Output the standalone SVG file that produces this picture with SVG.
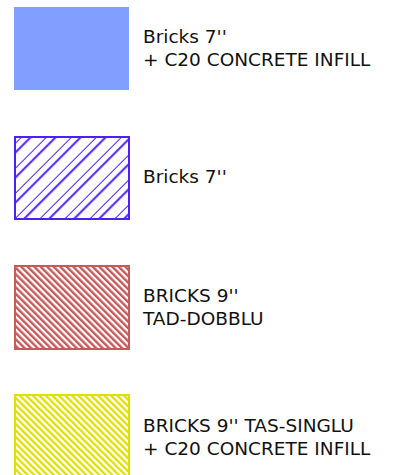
<svg xmlns="http://www.w3.org/2000/svg" width="401" height="475" viewBox="0 0 401 475">
  <style>
    .lbl { font-family: "DejaVu Sans", "Liberation Sans", sans-serif; font-size: 18.5px; fill: #111111; }
  </style>
  <defs>
    <pattern id="hatchBlue" patternUnits="userSpaceOnUse" width="17.68" height="20" patternTransform="translate(8,0) rotate(45)">
      <line x1="0" y1="-5" x2="0" y2="25" stroke="#4F1FFA" stroke-width="2"/>
      <line x1="7.07" y1="-5" x2="7.07" y2="25" stroke="#4F1FFA" stroke-width="2"/>
    </pattern>
    <pattern id="hatchRed" patternUnits="userSpaceOnUse" width="4.6" height="10" patternTransform="rotate(-45)">
      <rect x="0" y="0" width="2.4" height="10" fill="#C45A5A"/>
    </pattern>
    <pattern id="hatchYellow" patternUnits="userSpaceOnUse" width="4.6" height="10" patternTransform="rotate(-45)">
      <rect x="0" y="0" width="2.3" height="10" fill="#E0E000"/>
    </pattern>
  </defs>

  <g id="legend-bricks7-infill">
    <rect x="14" y="7" width="115" height="83" fill="#809FFF"/>
    <text class="lbl" x="143" y="43">Bricks 7''</text>
    <text class="lbl" x="143" y="66">+ C20 CONCRETE INFILL</text>
  </g>

  <g id="legend-bricks7">
    <rect x="15" y="137" width="114" height="82" fill="url(#hatchBlue)" stroke="#4F1FFA" stroke-width="2"/>
    <text class="lbl" x="143" y="183">Bricks 7''</text>
  </g>

  <g id="legend-bricks9-double">
    <rect x="15" y="266" width="114" height="83" fill="url(#hatchRed)" stroke="#C45A5A" stroke-width="2"/>
    <text class="lbl" x="143" y="302">BRICKS 9''</text>
    <text class="lbl" x="143" y="325">TAD-DOBBLU</text>
  </g>

  <g id="legend-bricks9-single-infill">
    <rect x="15" y="395" width="114" height="84" fill="url(#hatchYellow)" stroke="#E0E000" stroke-width="2"/>
    <text class="lbl" x="143" y="432">BRICKS 9'' TAS-SINGLU</text>
    <text class="lbl" x="143" y="455">+ C20 CONCRETE INFILL</text>
  </g>

  <g id="connectors"/>
</svg>
